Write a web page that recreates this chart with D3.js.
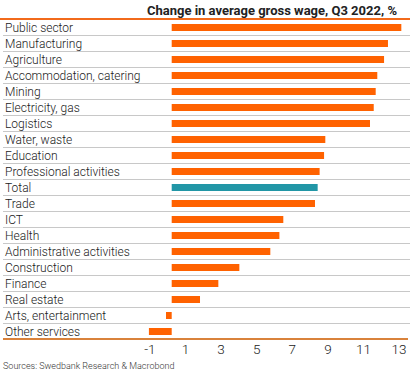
<!DOCTYPE html>
<html>
<head>
<meta charset="utf-8">
<script src="https://cdn.jsdelivr.net/npm/d3@7"></script>
<style>
  body { margin: 0; background: #fff; }
  svg { display: block; font-family: Roboto, "Noto Sans", sans-serif; }
</style>
</head>
<body>
<svg id="chart" width="412" height="372"></svg>
<script>
var sectors = ['Public sector', 'Manufacturing', 'Agriculture', 'Accommodation, catering',
  'Mining', 'Electricity, gas', 'Logistics', 'Water, waste', 'Education',
  'Professional activities', 'Total', 'Trade', 'ICT', 'Health',
  'Administrative activities', 'Construction', 'Finance', 'Real estate',
  'Arts, entertainment', 'Other services'];
var wageChange = [12.9, 12.15, 11.93, 11.55, 11.46, 11.35, 11.14, 8.63, 8.56,
  8.31, 8.2, 8.05, 6.27, 6.05, 5.54, 3.8, 2.62, 1.59, -0.32, -1.28];
var tickValues = [-1, 1, 3, 5, 7, 9, 11, 13];

var svg = d3.select('#chart'),
    plotTop = 19,
    rowH = 16,
    plotBottom = plotTop + rowH * sectors.length;

var x = d3.scaleLinear().domain([0, 13]).range([171.7, 171.7 + 17.8 * 13]);
var y = d3.scaleBand().domain(sectors).range([plotTop, plotBottom]);

// title
svg.append('text')
  .attr('x', 397)
  .attr('y', 15)
  .attr('text-anchor', 'end')
  .style('font-size', '13px')
  .style('font-weight', 700)
  .style('fill', '#222')
  .text('Change in average gross wage, Q3 2022, %');

svg.append('line')
  .attr('x1', 0).attr('x2', 410)
  .attr('y1', plotTop).attr('y2', plotTop)
  .style('stroke', '#f26a1b')
  .style('stroke-width', 2);

// row separators
svg.selectAll('.sep')
  .data(sectors.slice(1))
  .enter().append('line')
  .attr('class', 'sep')
  .attr('x1', 3).attr('x2', 410)
  .attr('y1', function(d) { return y(d) + 0.5; })
  .attr('y2', function(d) { return y(d) + 0.5; })
  .style('stroke', '#c8c8c8')
  .style('stroke-width', 1);

// labels
svg.selectAll('.label')
  .data(sectors)
  .enter().append('text')
  .attr('class', 'label')
  .attr('x', 5)
  .attr('y', function(d) { return y(d) + rowH / 2 + 4.5; })
  .style('font-size', '12px')
  .style('font-weight', 300)
  .style('fill', '#1a1a1a')
  .text(function(d) { return d; });

// bars
var barH = 7;
svg.selectAll('.bar')
  .data(sectors)
  .enter().append('rect')
  .attr('class', 'bar')
  .attr('x', function(d, i) { return x(Math.min(0, wageChange[i])); })
  .attr('width', function(d, i) { return Math.abs(x(wageChange[i]) - x(0)); })
  .attr('y', function(d) { return y(d) + rowH / 2 - barH / 2 + 0.5; })
  .attr('height', barH)
  .style('fill', function(d) { return d === 'Total' ? '#2196a6' : '#ff6200'; });

svg.append('line')
  .attr('x1', 3).attr('x2', 408)
  .attr('y1', plotBottom).attr('y2', plotBottom)
  .style('stroke', '#d9823b')
  .style('stroke-width', 2);

// x axis
var axis = svg.append('g')
  .attr('transform', 'translate(0,' + plotBottom + ')')
  .call(d3.axisBottom(x).tickValues(tickValues).tickSize(0).tickPadding(5)
    .tickFormat(function(d) { return d < 0 ? '-' + Math.abs(d) : d; }));
axis.select('.domain').remove();
axis.selectAll('text')
  .attr('dx', -4.5)
  .attr('dy', '0.71em')
  .style('font-size', '13.5px')
  .style('font-weight', 300)
  .style('font-family', 'Roboto, sans-serif')
  .style('fill', '#222');

svg.append('text')
  .attr('x', 3)
  .attr('y', 369)
  .style('font-size', '9px')
  .style('font-weight', 300)
  .style('fill', '#333')
  .text('Sources: Swedbank Research & Macrobond');
</script>
</body>
</html>
